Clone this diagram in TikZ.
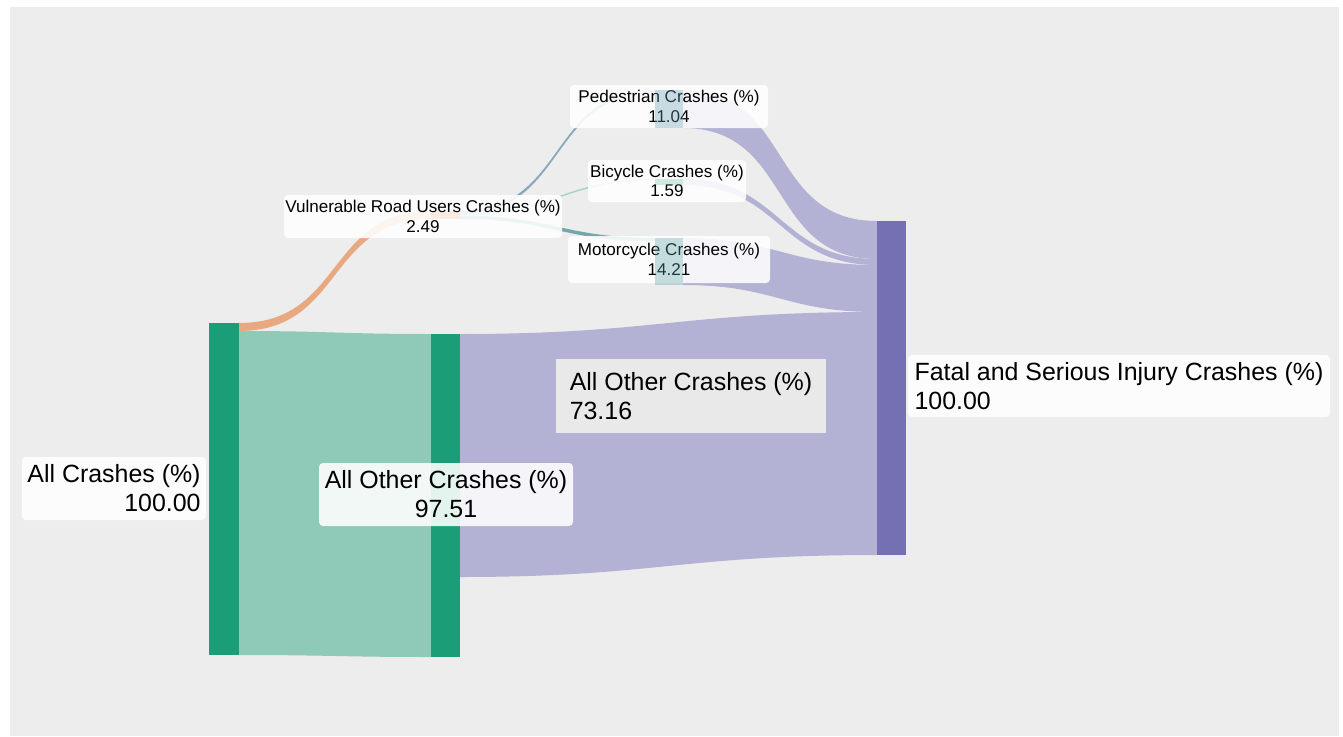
\documentclass[tikz,border=0pt]{standalone}
\usepackage{fontspec}
\setmainfont{Liberation Sans}
\pgfdeclarelayer{flows}
\pgfsetlayers{flows,main}

\definecolor{bgcol}{HTML}{EDEDED}
\definecolor{nodegreen}{HTML}{1B9E77}
\definecolor{barlink}{HTML}{8FC9B8}
\definecolor{vrunode}{HTML}{D95F02}
\definecolor{vrulink}{HTML}{E8A880}
\definecolor{fsinode}{HTML}{7570B3}
\definecolor{fsilink}{HTML}{B3B1D4}
\definecolor{pedlink}{HTML}{88A9B9}
\definecolor{bikelink}{HTML}{A3D4C7}
\definecolor{motolink}{HTML}{73A8AA}
\definecolor{pednode}{HTML}{6C9FB3}
\definecolor{bikenode}{HTML}{7CC4B0}
\definecolor{motonode}{HTML}{5FA3A8}
\definecolor{othbox}{HTML}{E9E9E9}

\tikzset{
  barnode/.style 2 args={anchor=north west, inner sep=0pt, outer sep=0pt,
    minimum width=#1*0.75pt, minimum height=#2*0.75pt},
  lbl/.style 2 args={fill=white, fill opacity=0.88, text opacity=1,
    rounded corners=3pt, inner sep=0pt,
    minimum width=#1*0.75pt, minimum height=#2*0.75pt},
  bigtext/.style={font=\fontsize{18.7}{21.75}\selectfont},
  smalltext/.style={font=\fontsize{12.8}{14.8}\selectfont},
  flowout/.style={out=0, in=180, looseness=1.2},
  flowin/.style={out=180, in=0, looseness=1.2},
}

\begin{document}
\begin{tikzpicture}[x=0.75pt, y=-0.75pt]
		\useasboundingbox (0,0) rectangle (1343,736);
		
		% bars
		\node[barnode={30}{332}, fill=nodegreen] (all) at (209,323) {};
		\node[barnode={29}{323}, fill=nodegreen] (oth) at (431,334) {};
		\node[barnode={29}{8}, fill=vrunode] (vru) at (431,211) {};
		\node[barnode={29}{334}, fill=fsinode] (fsi) at (877,221) {};
		
		% stack points on the bars
		\coordinate (all-oth) at (239,331);
		\coordinate (vru-ped) at (460,214);
		\coordinate (vru-bike) at (460,215.5);
		\coordinate (ped-in) at (655,93);
		\coordinate (bike-in) at (655,180.5);
		\coordinate (moto-in) at (655,241.5);
		\coordinate (oth-fsi) at (460,577);
		\coordinate (fsi-bike) at (877,259);
		\coordinate (fsi-moto) at (877,265);
		\coordinate (fsi-oth) at (877,312);
		
		% labels
		\node[lbl={184}{63}, bigtext, align=right] (all-lbl) at (114,488.5) {All Crashes (\%)\\100.00};
		\node[lbl={254}{63}, bigtext, align=center] (oth-lbl) at (446,494.5) {All Other Crashes (\%)\\97.51};
		\node[lbl={278}{43}, smalltext, align=center] (vru-lbl) at (423,216.5) {Vulnerable Road Users Crashes (\%)\\2.49};
		\node[lbl={198}{43}, smalltext, align=center] (ped-lbl) at (669,106.5) {Pedestrian Crashes (\%)\\11.04};
		\node[lbl={158}{42}, smalltext, align=center] (bike-lbl) at (667,181) {Bicycle Crashes (\%)\\1.59};
		\node[lbl={202}{47}, smalltext, align=center] (moto-lbl) at (669,259.5) {Motorcycle Crashes (\%)\\14.21};
		\node[lbl={422}{62}, bigtext, align=left] (fsi-lbl) at (1119,386) {Fatal and Serious Injury Crashes (\%)\\100.00};
		\node[lbl={270}{74}, bigtext, align=left, fill=othbox, fill opacity=1, rounded corners=0pt] (oth-val) at (691,396) {All Other Crashes (\%)\\73.16};
		
		% third column bars
		\node[barnode={28}{38}, fill=pednode, fill opacity=0.35] (ped) at (655,90) {};
		\node[barnode={28}{6}, fill=bikenode, fill opacity=0.35] (bike) at (655,179) {};
		\node[barnode={28}{47}, fill=motonode, fill opacity=0.35] (moto) at (655,238) {};
		
		\begin{pgfonlayer}{flows}
		\fill[white] (0,0) rectangle (1343,736);
		\fill[bgcol] (10,7) rectangle (1339,736);
		
		\fill[barlink] (all-oth) to[flowout] (oth.north west) -- (oth.south west) to[flowin] (all.south east) -- cycle;
		\fill[vrulink] (all.north east) to[flowout] (vru.north west) -- (vru.south west) to[flowin] (all-oth) -- cycle;
		
		\fill[pedlink] (vru.north east) to[flowout] (ped.north west) -- (ped-in) to[flowin] (vru-ped) -- cycle;
		\fill[bikelink] (vru-ped) to[flowout] (bike.north west) -- (bike-in) to[flowin] (vru-bike) -- cycle;
		\fill[motolink] (vru-bike) to[flowout] (moto.north west) -- (moto-in) to[flowin] (vru.south east) -- cycle;
		
		\fill[fsilink] (ped.north east) to[flowout] (fsi.north west) -- (fsi-bike) to[flowin] (ped.south east) -- cycle;
		\fill[fsilink] (bike.north east) to[flowout] (fsi-bike) -- (fsi-moto) to[flowin] (bike.south east) -- cycle;
		\fill[fsilink] (moto.north east) to[flowout] (fsi-moto) -- (fsi-oth) to[flowin] (moto.south east) -- cycle;
		\fill[fsilink] (oth.north east) to[flowout] (fsi-oth) -- (fsi.south west) to[flowin] (oth-fsi) -- cycle;
		\end{pgfonlayer}
		
\end{tikzpicture}
\end{document}
